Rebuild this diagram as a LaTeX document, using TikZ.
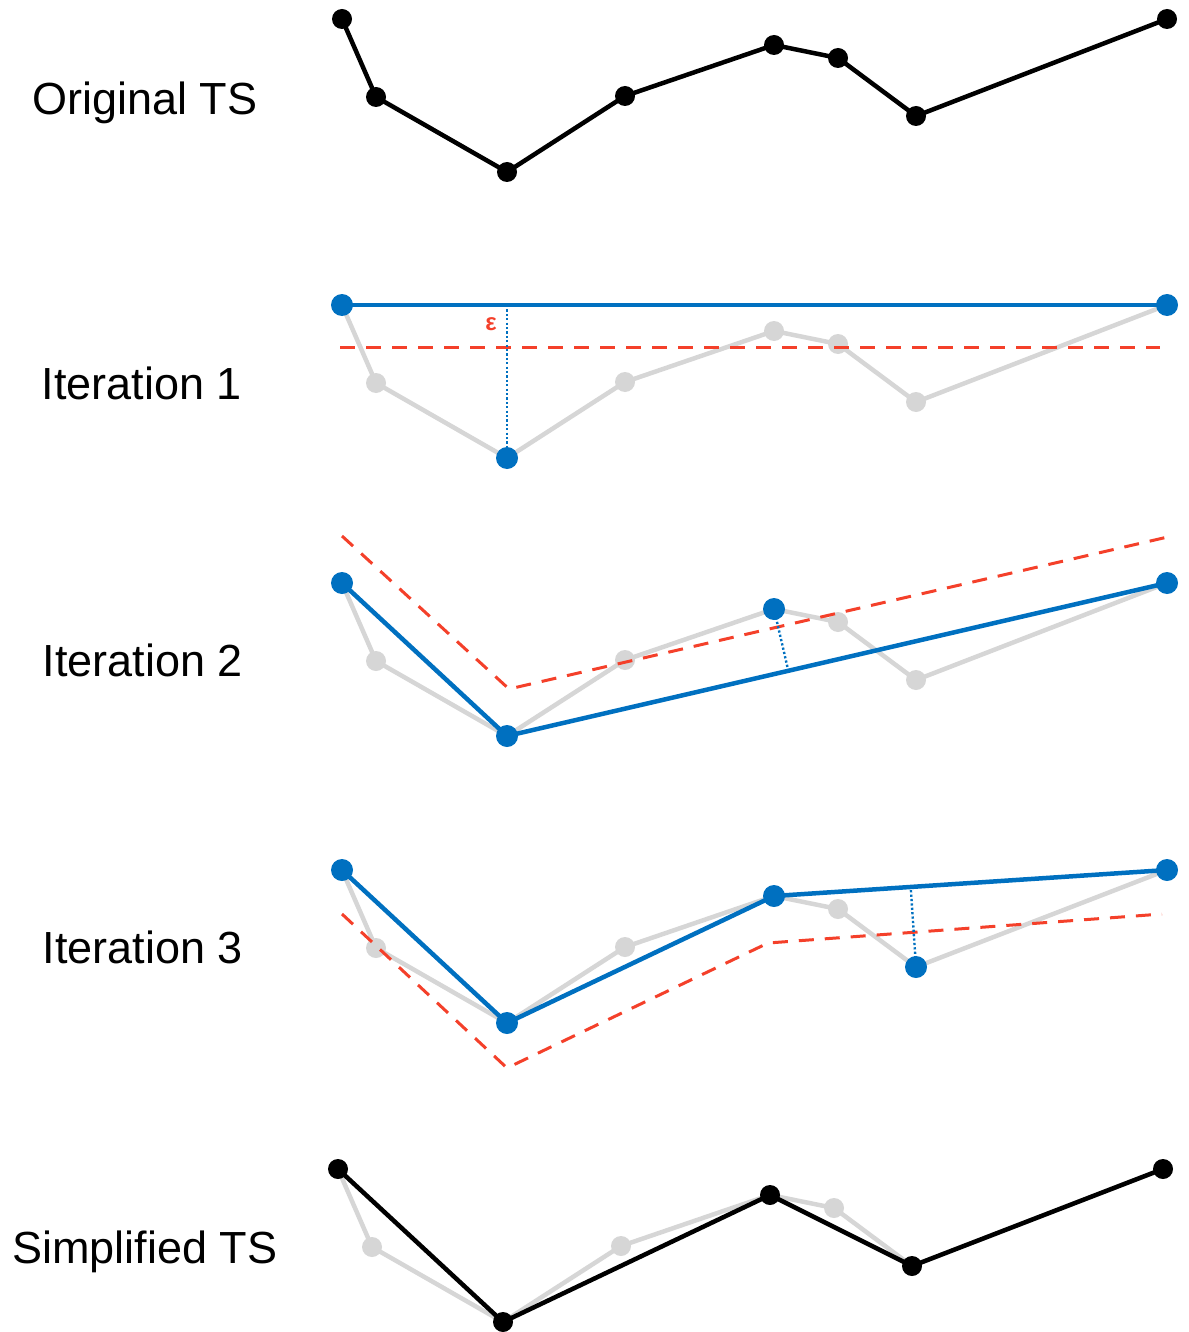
\documentclass[tikz,border=0pt]{standalone}
\usepackage{fontspec}
\setmainfont{Liberation Sans}
\usetikzlibrary{calc}
\definecolor{tsblue}{HTML}{0070C0}
\definecolor{tsred}{HTML}{F4402A}
\definecolor{tsgray}{HTML}{D6D6D6}
\newcommand\mkpts[3]{%
  \foreach \i/\px/\py in {1/342/19,2/376/97,3/507/172,4/625/96,5/774/45,6/838/58,7/916/116,8/1167/19}{%
    \coordinate (#1\i) at ({\px+#2},{\py+#3});%
  }}
\begin{document}
\begin{tikzpicture}[x=1pt,y=-1pt,
  gline/.style={draw=tsgray,line width=4.5pt,line join=round},
  kline/.style={draw=black,line width=4.5pt,line join=round},
  bline/.style={draw=tsblue,line width=4.5pt,line join=round},
  rdash/.style={draw=tsred,line width=3pt,dash pattern=on 15pt off 11pt},
  bdotted/.style={draw=tsblue,line width=2.4pt,dash pattern=on 2.2pt off 2.2pt},
  gdot/.style={circle,fill=tsgray,inner sep=0pt,minimum size=20pt},
  kdot/.style={circle,fill=black,inner sep=0pt,minimum size=20pt},
  bdot/.style={circle,fill=tsblue,inner sep=0pt,minimum size=22pt},
  lab/.style={font=\fontsize{45}{54}\selectfont,anchor=base,inner sep=0pt}]
\useasboundingbox (0,0) rectangle (1188,1332);
% labels
\node[lab] (l0) at (145,115) {Original TS};
\node[lab] (l1) at (142,399) {Iteration 1};
\node[lab] (l2) at (143,676) {Iteration 2};
\node[lab] (l3) at (143,963) {Iteration 3};
\node[lab] (l4) at (145,1263) {Simplified TS};
% point sets
\mkpts{o}{0}{0}
\mkpts{a}{0}{286}
\mkpts{b}{0}{564}
\mkpts{c}{0}{851}
\mkpts{s}{-4}{1150}
% ---------- Original
\draw[kline] (o1)--(o2)--(o3)--(o4)--(o5)--(o6)--(o7)--(o8);
\foreach \i in {1,...,8} \node[kdot] (ko\i) at (o\i) {};
% ---------- Iteration 1
\draw[gline] (a1)--(a2)--(a3)--(a4)--(a5)--(a6)--(a7)--(a8);
\foreach \i in {2,4,5,6,7} \node[gdot] (ga\i) at (a\i) {};
\coordinate (ra1) at (340,347);
\coordinate (ra2) at (1160,347);
\draw[rdash] (ra1)--(ra2);
\draw[bline] (a1)--(a8);
\coordinate (fa) at ($(a1)!(a3)!(a8)$);
\draw[bdotted] (fa)--(a3);
\foreach \i in {1,3,8} \node[bdot] (ba\i) at (a\i) {};
\node[text=tsred,font=\bfseries\fontsize{24}{26}\selectfont,inner sep=0pt] (eps) at (491,324) {ε};
% ---------- Iteration 2
\draw[gline] (b1)--(b2)--(b3)--(b4)--(b5)--(b6)--(b7)--(b8);
\foreach \i in {2,4,6,7} \node[gdot] (gb\i) at (b\i) {};
\coordinate (rb1) at (342,536);
\coordinate (rb2) at (509,689);
\coordinate (rb3) at (1172,536);
\draw[rdash] (rb1)--(rb2)--(rb3);
\draw[bline] (b1)--(b3)--(b8);
\coordinate (fb) at ($(b3)!(b5)!(b8)$);
\draw[bdotted] (b5)--(fb);
\foreach \i in {1,3,5,8} \node[bdot] (bb\i) at (b\i) {};
% ---------- Iteration 3
\draw[gline] (c1)--(c2)--(c3)--(c4)--(c5)--(c6)--(c7)--(c8);
\foreach \i in {2,4,6} \node[gdot] (gc\i) at (c\i) {};
\coordinate (rc1) at (342,914);
\coordinate (rc2) at (507,1068);
\coordinate (rc3) at (768,943);
\coordinate (rc4) at (1162,914);
\draw[rdash] (rc1)--(rc2)--(rc3)--(rc4);
\draw[bline] (c1)--(c3)--(c5)--(c8);
\coordinate (fc) at ($(c5)!(c7)!(c8)$);
\draw[bdotted] (c7)--(fc);
\foreach \i in {1,3,5,7,8} \node[bdot] (bc\i) at (c\i) {};
% ---------- Simplified
\draw[gline] (s1)--(s2)--(s3)--(s4)--(s5)--(s6)--(s7)--(s8);
\foreach \i in {2,4,6} \node[gdot] (gs\i) at (s\i) {};
\draw[kline] (s1)--(s3)--(s5)--(s7)--(s8);
\foreach \i in {1,3,5,7,8} \node[kdot] (ks\i) at (s\i) {};
\end{tikzpicture}
\end{document}
